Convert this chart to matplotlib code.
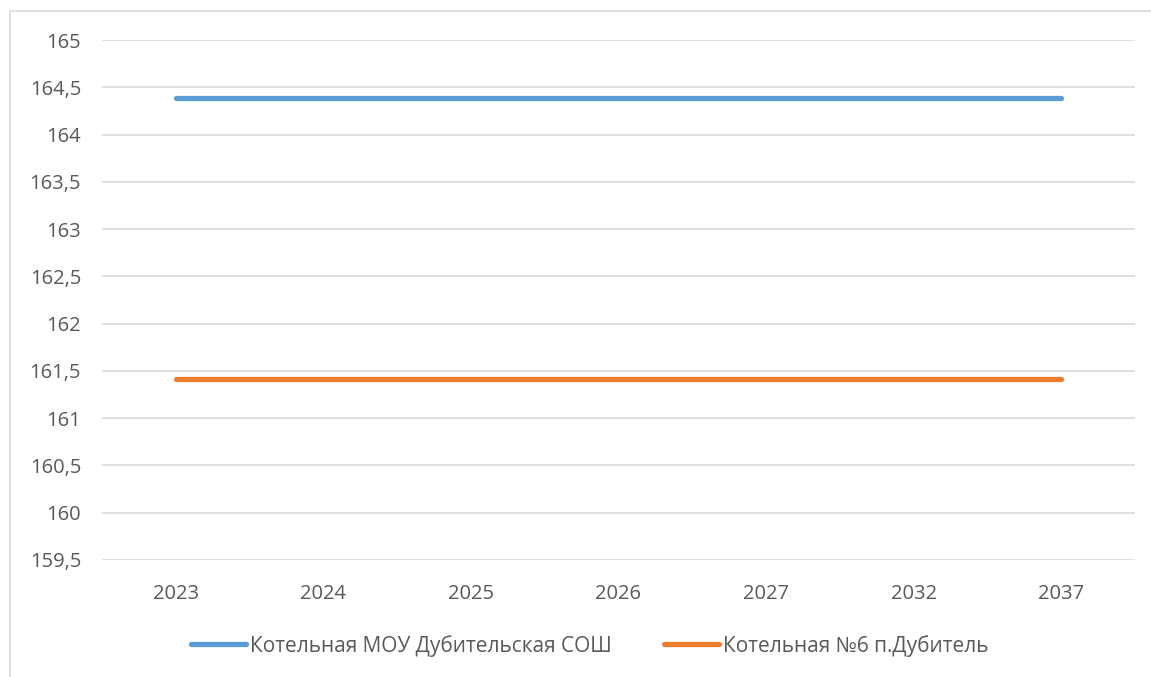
import matplotlib.pyplot as plt
from matplotlib.patches import Rectangle

years = ['2023', '2024', '2025', '2026', '2027', '2032', '2037']
school = [164.39] * 7
boiler6 = [161.41] * 7
labels = ['Котельная МОУ Дубительская СОШ', 'Котельная №6 п.Дубитель']
colors = ['#5B9BD5', '#ED7D31']

plt.rcParams['font.family'] = ['Open Sans', 'DejaVu Sans']

fig = plt.figure(figsize=(11.51, 6.77), dpi=100)
fig.patches.append(Rectangle((10 / 1151, -0.01), 1.2, 1 - 11 / 677 + 0.01,
                             transform=fig.transFigure, fill=False,
                             edgecolor='#d9d9d9', linewidth=1.2))

ax = fig.add_axes([102 / 1151, 1 - 560 / 677, (1135 - 102) / 1151, (560 - 40) / 677])
x = range(len(years))
ax.plot(x, school, color=colors[0], linewidth=3.8, solid_capstyle='round', label=labels[0])
ax.plot(x, boiler6, color=colors[1], linewidth=3.8, solid_capstyle='round', label=labels[1])

ax.set_xlim(-0.5, len(years) - 0.5)
ax.set_ylim(159.5, 165)
ax.set_yticks([159.5 + 0.5 * i for i in range(12)])
ax.set_yticklabels([f'{159.5 + 0.5 * i:g}'.replace('.', ',') for i in range(12)])
ax.set_xticks(list(x))
ax.set_xticklabels(years)
ax.tick_params(axis='both', length=0, labelsize=14.5, colors='#595959')
ax.tick_params(axis='y', pad=15)
ax.tick_params(axis='x', pad=17)
ax.grid(axis='y', color='#d9d9d9', linewidth=1.2)
ax.set_axisbelow(True)
for s in ax.spines.values():
    s.set_visible(False)

ax.legend(loc='center', bbox_to_anchor=(0.472, -0.165), ncol=2, frameon=False,
          fontsize=15, labelcolor='#595959', handlelength=2.65, handletextpad=0.2,
          columnspacing=2.5)

fig.savefig('out.png', dpi=100)
